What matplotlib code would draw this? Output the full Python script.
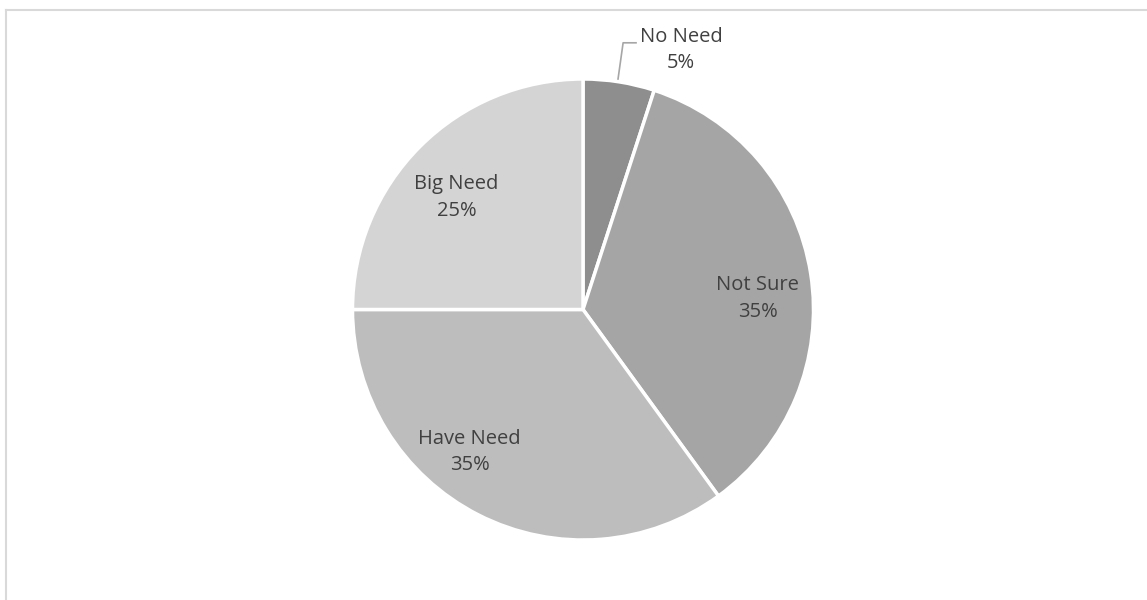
import matplotlib.pyplot as plt
from matplotlib.lines import Line2D

categories = ["No Need", "Not Sure", "Have Need", "Big Need"]
shares = [5, 35, 35, 25]
colors = ["#8e8e8e", "#a5a5a5", "#bdbdbd", "#d4d4d4"]
label_pos = [(0.425, 1.126), (0.757, 0.048), (-0.492, -0.618), (-0.549, 0.486)]

fig = plt.figure(figsize=(11.47, 6), dpi=100)
fig.patch.set_facecolor("white")

# chart-area border (only top and left visible)
fig.add_artist(Line2D([6 / 1147, 6 / 1147], [0, 1 - 10 / 600], transform=fig.transFigure,
                      color="#d9d9d9", linewidth=1.5))
fig.add_artist(Line2D([6 / 1147, 1], [1 - 10 / 600, 1 - 10 / 600], transform=fig.transFigure,
                      color="#d9d9d9", linewidth=1.5))

cx, cy, r = 583, 309.5, 230.5
ax = fig.add_axes([(cx - r) / 1147, (600 - cy - r) / 600, 2 * r / 1147, 2 * r / 600])
ax.pie(shares, colors=colors, startangle=90, counterclock=False, radius=1,
       wedgeprops=dict(edgecolor="white", linewidth=2.5))
ax.set_xlim(-1, 1)
ax.set_ylim(-1, 1)
ax.set_aspect("equal")
ax.axis("off")

for name, share, (x, y) in zip(categories, shares, label_pos):
    ax.text(x, y, f"{name}\n{share}%", ha="center", va="center", fontsize=14.5,
            color="#404040", family="Open Sans", linespacing=1.45, clip_on=False)

# leader line for the small slice
ax.plot([0.152, 0.174, 0.23], [1.0, 1.157, 1.157], color="#a6a6a6", linewidth=1.2, clip_on=False)

fig.savefig("out.png", dpi=100)
